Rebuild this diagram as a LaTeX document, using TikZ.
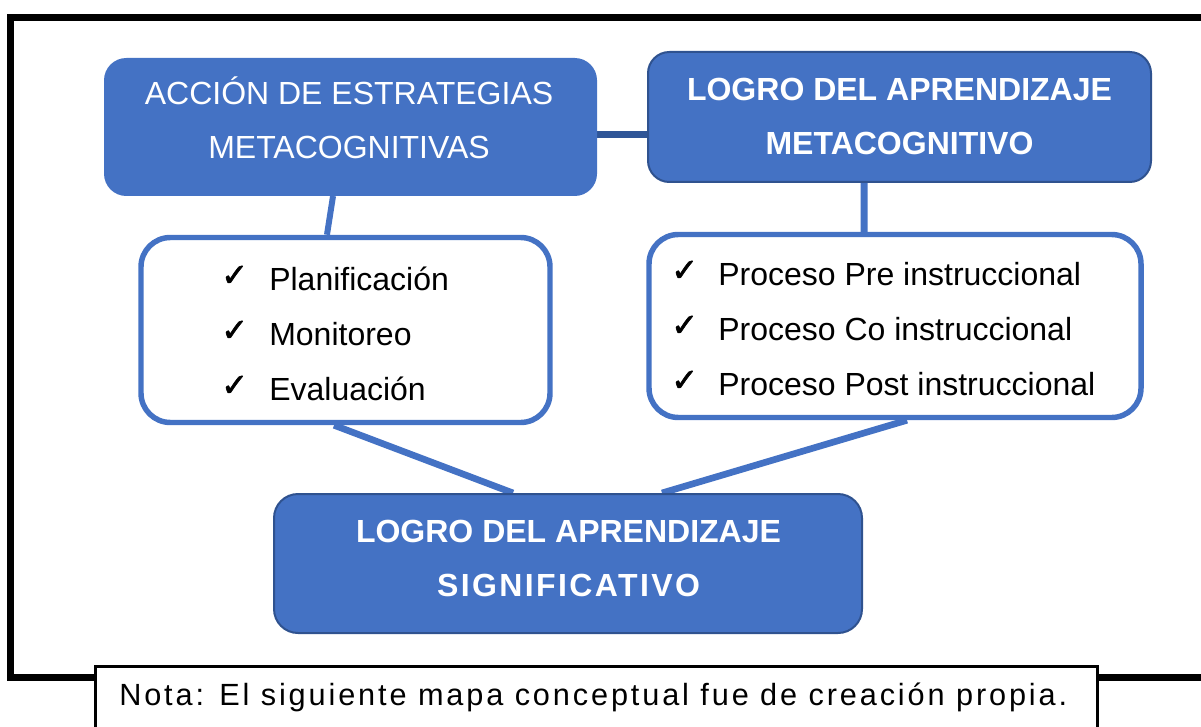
\documentclass[tikz,border=0pt]{standalone}
\usepackage{fontspec}
\usetikzlibrary{backgrounds}
\setmainfont{Liberation Sans}
\newfontfamily\chkfont[FakeBold=2]{DejaVu Sans}
\newfontfamily\notefont[LetterSpace=9.4]{Liberation Sans}
\newfontfamily\sigfont[LetterSpace=7.5]{Liberation Sans}
\definecolor{mblue}{HTML}{4472C4}
\definecolor{mdark}{HTML}{2F528F}
\definecolor{mlink}{HTML}{2F5597}
\tikzset{
 bluebox/.style={draw=mdark, line width=1.5pt, fill=mblue, rounded corners=16pt, inner sep=0pt},
 listbox/.style={draw=mblue, line width=4.1pt, fill=white, rounded corners=22pt, inner sep=0pt},
 headtxt/.style={text=white, align=center, font=\fontsize{24}{40.5}\selectfont\bfseries, inner sep=0pt},
 headtxtreg/.style={text=white, align=center, font=\fontsize{24}{40.5}\selectfont, inner sep=0pt},
 itemtxt/.style={anchor=base west, inner sep=0pt, font=\fontsize{24}{29}\selectfont},
 chktxt/.style={anchor=base west, inner sep=0pt, font=\chkfont\fontsize{24}{28}\selectfont},
 link/.style={draw=mblue, line width=5pt},
 notetxt/.style={anchor=base west, inner sep=0pt, font=\notefont\fontsize{23}{28}\selectfont},
}
\begin{document}
\begin{tikzpicture}[x=0.75pt,y=-0.75pt]
\useasboundingbox (0,0) rectangle (1201,727);
% outer frame
\draw[line width=5.25pt] (10.5,17.5) rectangle (1215,677);
% boxes
\node[bluebox, draw=mblue, minimum width=368.25pt, minimum height=102pt] (tl) at (350.5,127) {};
\node[bluebox, minimum width=377.25pt, minimum height=97.5pt] (tr) at (899.5,117) {};
\node[listbox, minimum width=306.75pt, minimum height=138.75pt] (ll) at (345.5,330) {};
\node[listbox, minimum width=369pt, minimum height=137.25pt] (rl) at (895,326) {};
\node[bluebox, rounded corners=18pt, minimum width=441pt, minimum height=104.25pt] (bt) at (568,563.5) {};
% heading texts
\node[headtxtreg] (tltext) at (349,120) {ACCI\smash{Ó}N DE ESTRATEGIAS\\METACOGNITIVAS};
\node[headtxt] (trtext) at (899.5,116) {LOGRO DEL APRENDIZAJE\\METACOGNITIVO};
\node[headtxt] (bttext) at (568.5,558.5) {LOGRO DEL APRENDIZAJE\\{\sigfont\bfseries SIGNIFICATIVO}};
% list items left
\node[chktxt] (lc1) at (221,286) {✓};
\node[chktxt] (lc2) at (221,341) {✓};
\node[chktxt] (lc3) at (221,396) {✓};
\node[itemtxt] (li1) at (269,290) {Planificación};
\node[itemtxt] (li2) at (269,345) {Monitoreo};
\node[itemtxt] (li3) at (269,400) {Evaluación};
% list items right
\node[chktxt] (rc1) at (671,281) {✓};
\node[chktxt] (rc2) at (671,336) {✓};
\node[chktxt] (rc3) at (671,391) {✓};
\node[itemtxt] (ri1) at (718,285) {Proceso Pre instruccional};
\node[itemtxt] (ri2) at (718,340) {Proceso Co instruccional};
\node[itemtxt] (ri3) at (718,395) {Proceso Post instruccional};
% connectors
\begin{scope}[on background layer]
\draw[draw=mlink, line width=5.25pt] ([yshift=-6pt]tl.east) -- ([yshift=-13.5pt]tr.west);
\draw[link, line width=4.5pt] ([xshift=-13.1pt]tl.south) -- ([xshift=-13.9pt]ll.north);
\draw[link, line width=5.25pt] ([xshift=-26.6pt]tr.south) -- ([xshift=-23.25pt]rl.north);
\draw[link] ([xshift=-8.6pt]ll.south) -- ([xshift=-41.25pt]bt.north);
\draw[link] ([xshift=9pt]rl.south) -- ([xshift=70.5pt]bt.north);
\end{scope}
% note
\node[draw, line width=2.4pt, fill=white, minimum width=751.5pt, minimum height=75pt, inner sep=0pt, anchor=north west] (notebox) at (94,665) {};
\node[notetxt] (notetext) at (119,705) {Nota: El siguiente mapa conceptual fue de creación propia.};
\end{tikzpicture}
\end{document}
